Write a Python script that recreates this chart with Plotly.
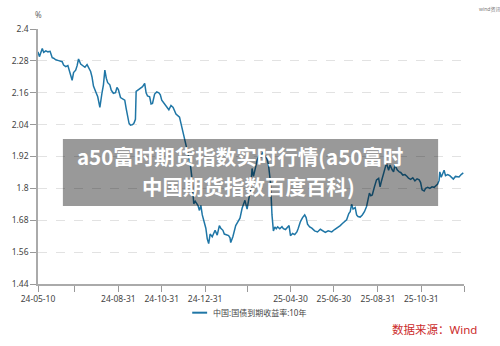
import plotly.graph_objects as go

# 中国:国债到期收益率:10年 (%)
dates = [
    "2024-05-10", "2024-05-12", "2024-05-16", "2024-05-18", "2024-05-21", "2024-05-24",
    "2024-05-27", "2024-05-30", "2024-06-01", "2024-06-04", "2024-06-08", "2024-06-13",
    "2024-06-15", "2024-06-18", "2024-06-21", "2024-06-23", "2024-06-27", "2024-06-29",
    "2024-07-02", "2024-07-04", "2024-07-06", "2024-07-09", "2024-07-12", "2024-07-15",
    "2024-07-18", "2024-07-20", "2024-07-23", "2024-07-25", "2024-07-27", "2024-07-30",
    "2024-08-02", "2024-08-05", "2024-08-06", "2024-08-08", "2024-08-10", "2024-08-12",
    "2024-08-14", "2024-08-16", "2024-08-19", "2024-08-21", "2024-08-24", "2024-08-27",
    "2024-08-29", "2024-08-31", "2024-09-03", "2024-09-06", "2024-09-09", "2024-09-11",
    "2024-09-13", "2024-09-15", "2024-09-17", "2024-09-20", "2024-09-22", "2024-09-24",
    "2024-09-25", "2024-09-28", "2024-10-01", "2024-10-04", "2024-10-07", "2024-10-09",
    "2024-10-11", "2024-10-14", "2024-10-16", "2024-10-18", "2024-10-21", "2024-10-24",
    "2024-10-27", "2024-10-29", "2024-10-31", "2024-11-04", "2024-11-06", "2024-11-10",
    "2024-11-13", "2024-11-16", "2024-11-20", "2024-11-25", "2024-11-27", "2024-11-30",
    "2024-12-03", "2024-12-06", "2024-12-08", "2024-12-10", "2024-12-12", "2024-12-14",
    "2024-12-15", "2024-12-17", "2024-12-19", "2024-12-21", "2024-12-23", "2024-12-25",
    "2024-12-27", "2024-12-30", "2025-01-01", "2025-01-03", "2025-01-05", "2025-01-07",
    "2025-01-10", "2025-01-12", "2025-01-14", "2025-01-17", "2025-01-20", "2025-01-22",
    "2025-01-25", "2025-01-27", "2025-01-30", "2025-02-02", "2025-02-04", "2025-02-05",
    "2025-02-08", "2025-02-10", "2025-02-12", "2025-02-15", "2025-02-18", "2025-02-21",
    "2025-02-23", "2025-02-25", "2025-02-28", "2025-03-03", "2025-03-05", "2025-03-07",
    "2025-03-09", "2025-03-12", "2025-03-14", "2025-03-17", "2025-03-19", "2025-03-22",
    "2025-03-25", "2025-03-28", "2025-03-30", "2025-04-02", "2025-04-04", "2025-04-06",
    "2025-04-08", "2025-04-10", "2025-04-12", "2025-04-15", "2025-04-18", "2025-04-20",
    "2025-04-23", "2025-04-26", "2025-04-28", "2025-04-30", "2025-05-03", "2025-05-06",
    "2025-05-09", "2025-05-11", "2025-05-14", "2025-05-17", "2025-05-20", "2025-05-22",
    "2025-05-24", "2025-05-27", "2025-05-30", "2025-06-03", "2025-06-07", "2025-06-11",
    "2025-06-15", "2025-06-18", "2025-06-22", "2025-06-27", "2025-07-01", "2025-07-05",
    "2025-07-09", "2025-07-12", "2025-07-15", "2025-07-18", "2025-07-21", "2025-07-23",
    "2025-07-25", "2025-07-27", "2025-07-30", "2025-08-01", "2025-08-03", "2025-08-06",
    "2025-08-09", "2025-08-12", "2025-08-15", "2025-08-17", "2025-08-19", "2025-08-21",
    "2025-08-23", "2025-08-26", "2025-08-29", "2025-09-01", "2025-09-03", "2025-09-05",
    "2025-09-08", "2025-09-10", "2025-09-12", "2025-09-15", "2025-09-17", "2025-09-20",
    "2025-09-22", "2025-09-24", "2025-09-27", "2025-09-30", "2025-10-02", "2025-10-05",
    "2025-10-08", "2025-10-11", "2025-10-13", "2025-10-16", "2025-10-19", "2025-10-22",
    "2025-10-25", "2025-10-28", "2025-10-30", "2025-11-01", "2025-11-04", "2025-11-06",
    "2025-11-09", "2025-11-12", "2025-11-15", "2025-11-18", "2025-11-20", "2025-11-23",
    "2025-11-25", "2025-11-26", "2025-11-28", "2025-12-01", "2025-12-02", "2025-12-04",
    "2025-12-07", "2025-12-10", "2025-12-13", "2025-12-15", "2025-12-18", "2025-12-20",
    "2025-12-23", "2025-12-26", "2025-12-29",
]
yields = [
    2.314, 2.296, 2.327, 2.312, 2.318, 2.314,
    2.316, 2.292, 2.290, 2.284, 2.281, 2.277,
    2.264, 2.258, 2.262, 2.244, 2.207, 2.236,
    2.245, 2.262, 2.287, 2.268, 2.262, 2.256,
    2.266, 2.255, 2.240, 2.219, 2.185, 2.165,
    2.145, 2.105, 2.130, 2.160, 2.190, 2.245,
    2.215, 2.198, 2.190, 2.170, 2.158, 2.160,
    2.180, 2.172, 2.142, 2.136, 2.132, 2.100,
    2.064, 2.045, 2.038, 2.040, 2.046, 2.060,
    2.165, 2.170, 2.175, 2.183, 2.195, 2.160,
    2.148, 2.145, 2.118, 2.120, 2.155, 2.163,
    2.160, 2.152, 2.132, 2.118, 2.110, 2.096,
    2.112, 2.105, 2.080, 2.068, 2.045, 2.010,
    1.985, 1.950, 1.925, 1.895, 1.850, 1.780,
    1.742, 1.752, 1.745, 1.735, 1.717, 1.736,
    1.700, 1.672, 1.650, 1.610, 1.592, 1.628,
    1.618, 1.630, 1.642, 1.624, 1.660, 1.650,
    1.642, 1.628, 1.626, 1.622, 1.614, 1.596,
    1.618, 1.636, 1.660, 1.674, 1.688, 1.725,
    1.740, 1.755, 1.722, 1.765, 1.800, 1.875,
    1.845, 1.880, 1.905, 1.925, 1.915, 1.935,
    1.920, 1.910, 1.890, 1.820, 1.700, 1.640,
    1.655, 1.648, 1.655, 1.648, 1.656, 1.648,
    1.645, 1.655, 1.660, 1.622, 1.630, 1.626,
    1.636, 1.650, 1.675, 1.690, 1.700, 1.690,
    1.665, 1.655, 1.650, 1.640, 1.636, 1.646,
    1.640, 1.634, 1.640, 1.636, 1.645, 1.652,
    1.660, 1.668, 1.676, 1.682, 1.705, 1.712,
    1.740, 1.722, 1.728, 1.700, 1.694, 1.692,
    1.700, 1.712, 1.732, 1.760, 1.782, 1.772,
    1.775, 1.805, 1.832, 1.838, 1.806, 1.828,
    1.860, 1.885, 1.895, 1.868, 1.888, 1.870,
    1.862, 1.888, 1.870, 1.862, 1.860, 1.850,
    1.852, 1.845, 1.838, 1.834, 1.840, 1.828,
    1.836, 1.832, 1.822, 1.795, 1.790, 1.800,
    1.804, 1.800, 1.806, 1.804, 1.810, 1.816,
    1.830, 1.862, 1.842, 1.860, 1.868, 1.848,
    1.852, 1.848, 1.840, 1.835, 1.845, 1.845,
    1.843, 1.852, 1.858,
]

x_tick_dates = ["2024-05-10", "2024-06-30", "2024-08-31", "2024-10-31", "2024-12-31",
                "2025-02-28", "2025-04-30", "2025-06-30", "2025-08-31", "2025-10-31",
                "2025-12-30"]
x_tick_labels = ["24-05-10", "", "24-08-31", "24-10-31", "24-12-31",
                 "", "25-04-30", "25-06-30", "25-08-31", "25-10-31", ""]
y_tick_vals = [1.44, 1.56, 1.68, 1.80, 1.92, 2.04, 2.16, 2.28, 2.40]
y_tick_labels = ["1.44", "1.56", "1.68", "1.8", "1.92", "2.04", "2.16", "2.28", "2.4"]

series_name = "中国:国债到期收益率:10年"
banner_lines = ["a50富时期货指数实时行情(a50富时", "中国期货指数百度百科)"]
line_color = "#1f76a6"
FONT = "Noto Sans, Noto Sans CJK SC, sans-serif"

fig = go.Figure()
fig.add_trace(go.Scatter(
    x=dates, y=yields, mode="lines", name=series_name,
    line=dict(color=line_color, width=1.5), showlegend=False,
))

fig.update_layout(
    width=500, height=346,
    margin=dict(l=36, r=36, t=29, b=62),
    paper_bgcolor="white", plot_bgcolor="white",
    font=dict(family=FONT, size=8, color="#444"),
    xaxis=dict(
        type="date", range=["2024-05-10", "2025-12-30"],
        tickmode="array", tickvals=x_tick_dates, ticktext=x_tick_labels,
        ticks="outside", ticklen=6, tickcolor="#999", tickwidth=1,
        showline=True, linecolor="#aaa", linewidth=1.5,
        showgrid=False, zeroline=False,
        tickfont=dict(size=8.5, color="#444"),
    ),
    yaxis=dict(
        range=[1.44, 2.40],
        tickmode="array", tickvals=y_tick_vals, ticktext=y_tick_labels,
        ticks="outside", ticklen=6, tickcolor="#999", tickwidth=1,
        showline=True, linecolor="#aaa", linewidth=1.5,
        showgrid=True, gridcolor="#e2e2e2", griddash="dash", gridwidth=1,
        zeroline=False,
        tickfont=dict(size=8.5, color="#444"),
    ),
)

# unit label and small header text
fig.add_annotation(x=0, y=1.055, xref="paper", yref="paper", text="%",
                   showarrow=False, xanchor="center", yanchor="middle",
                   font=dict(size=8, color="#666"))
fig.add_annotation(x=1.06, y=1.075, xref="paper", yref="paper", text="wind资讯",
                   showarrow=False, xanchor="center", yanchor="middle",
                   font=dict(size=5, color="#777"))

# legend drawn as a short line sample plus label
fig.add_shape(type="line", xref="paper", yref="paper",
              x0=0.362, x1=0.397, y0=-0.1125, y1=-0.1125,
              line=dict(color=line_color, width=2))
fig.add_annotation(x=0.407, y=-0.1125, xref="paper", yref="paper", text=series_name,
                   showarrow=False, xanchor="left", yanchor="middle",
                   font=dict(size=8, color="#444"))

# data source note
fig.add_annotation(x=1.035, y=-0.18, xref="paper", yref="paper",
                   text="数据来源：Wind", showarrow=False,
                   xanchor="right", yanchor="middle",
                   font=dict(size=11.5, color="#cc2b2b"))

# translucent title banner across the chart
fig.add_shape(type="rect", xref="paper", yref="paper",
              x0=(61 - 36) / 428, x1=(438 - 36) / 428,
              y0=(284 - 206) / 255, y1=(284 - 139) / 255,
              fillcolor="rgba(0,0,0,0.4)", line=dict(width=0), layer="above")
for line_text, cx, cy in zip(banner_lines, [239, 247], [156, 186]):
    fig.add_annotation(x=(cx - 36) / 428, y=(284 - cy) / 255, xref="paper", yref="paper",
                       text="<b>" + line_text + "</b>", showarrow=False,
                       xanchor="center", yanchor="middle",
                       font=dict(size=20.5, color="white",
                                 family="Noto Sans CJK SC, sans-serif"))

fig.write_html("out.html")
